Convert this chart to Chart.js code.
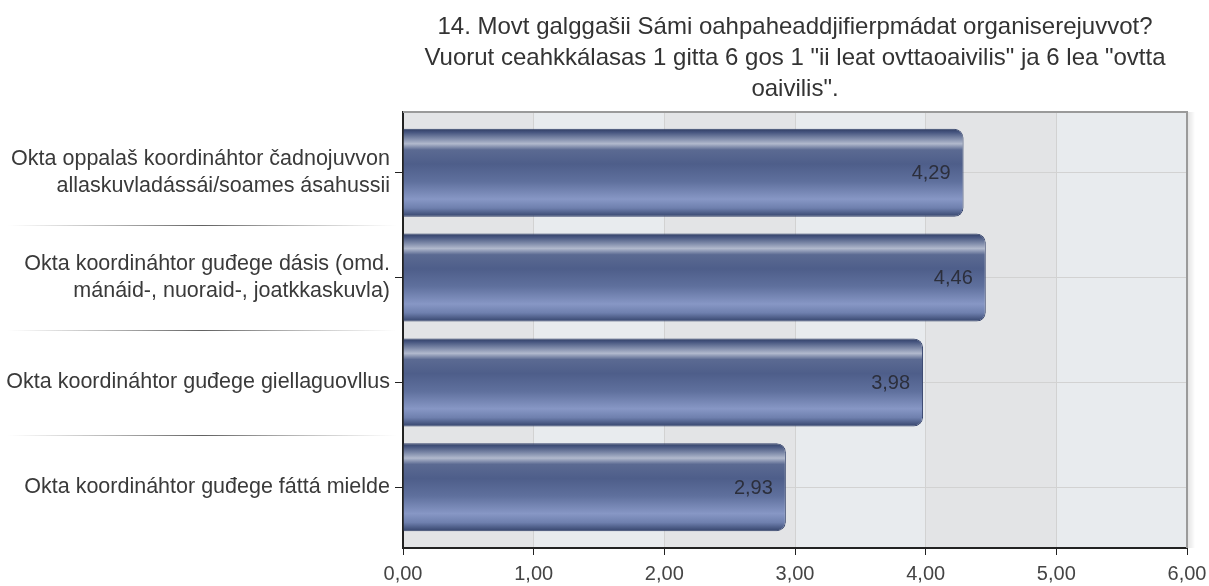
<!DOCTYPE html>
<html>
<head>
<meta charset="utf-8">
<script src="https://cdn.jsdelivr.net/npm/chart.js"></script>
<style>
  html, body { margin: 0; padding: 0; background: #fff; }
  #wrap { width: 1209px; height: 586px; position: relative; }
</style>
</head>
<body>
<div id="wrap"><canvas id="barChart"></canvas></div>
<script>
var titleLines = [
  "14. Movt galggašii Sámi oahpaheaddjifierpmádat organiserejuvvot?",
  "Vuorut ceahkkálasas 1 gitta 6 gos 1 \"ii leat ovttaoaivilis\" ja 6 lea \"ovtta",
  "oaivilis\"."
];
var barLabels = [
  ["Okta oppalaš koordináhtor čadnojuvvon", "allaskuvladássái/soames ásahussii"],
  ["Okta koordináhtor guđege dásis (omd.", "mánáid-, nuoraid-, joatkkaskuvla)"],
  "Okta koordináhtor guđege giellaguovllus",
  "Okta koordináhtor guđege fáttá mielde"
];
var barValues = [4.29, 4.46, 3.98, 2.93];
var xMin = 0;
var xMax = 6;

const FONT = "'Liberation Sans', Arial, sans-serif";
const BAR_SHARE = 0.84;
const Y_PAD = 0.58; // extra room above first and below last category

const fmt = (v) => v.toFixed(2).replace(".", ",");

// vertical gradient for each bar, built from the y scale
const barFill = (ctx) => {
  const chart = ctx.chart;
  if (!chart.chartArea || !chart.scales.y) return "#56679a";
  const yScale = chart.scales.y;
  const mid = yScale.getPixelForValue(ctx.dataIndex);
  const half = Math.abs(yScale.getPixelForValue(1) - yScale.getPixelForValue(0)) * BAR_SHARE / 2;
  const g = chart.ctx.createLinearGradient(0, mid - half, 0, mid + half);
  g.addColorStop(0, "#2f3d63");
  g.addColorStop(0.04, "#46557f");
  g.addColorStop(0.11, "#7e8aa9");
  g.addColorStop(0.17, "#b1b9cd");
  g.addColorStop(0.24, "#5b6a92");
  g.addColorStop(0.4, "#4e5e8a");
  g.addColorStop(0.6, "#5f709d");
  g.addColorStop(0.8, "#8797c5");
  g.addColorStop(0.9, "#6f80ae");
  g.addColorStop(1, "#34436b");
  return g;
};

// BACKGROUND, BORDERS, LABEL SEPARATORS, TITLE, VALUES
const decor = {
  id: "decor",
  beforeDraw(chart) {
    const { ctx, chartArea: a, scales } = chart;
    ctx.save();
    for (let i = xMin; i < xMax; i++) {
      const x0 = scales.x.getPixelForValue(i);
      const x1 = scales.x.getPixelForValue(i + 1);
      ctx.fillStyle = i % 2 === 0 ? "#e3e4e6" : "#e8ebee";
      ctx.fillRect(x0, a.top, x1 - x0, a.bottom - a.top);
    }
    // right shadow
    const sh = ctx.createLinearGradient(a.right, 0, a.right + 8, 0);
    sh.addColorStop(0, "rgba(0,0,0,0.12)");
    sh.addColorStop(1, "rgba(0,0,0,0)");
    ctx.fillStyle = sh;
    ctx.fillRect(a.right, a.top, 8, a.bottom - a.top);
    // separators between category labels
    for (let i = 1; i < barLabels.length; i++) {
      const y = Math.round(scales.y.getPixelForValue(i - 0.5)) + 0.5;
      const g = ctx.createLinearGradient(8, 0, 396, 0);
      g.addColorStop(0, "rgba(120,120,120,0)");
      g.addColorStop(0.5, "rgba(80,80,80,0.9)");
      g.addColorStop(1, "rgba(120,120,120,0)");
      ctx.strokeStyle = g;
      ctx.lineWidth = 1;
      ctx.beginPath();
      ctx.moveTo(8, y);
      ctx.lineTo(396, y);
      ctx.stroke();
    }
    // title, centred over the plot
    ctx.fillStyle = "#333";
    ctx.font = "24px " + FONT;
    ctx.textAlign = "center";
    ctx.textBaseline = "middle";
    const cx = (a.left + a.right) / 2;
    titleLines.forEach((t, i) => ctx.fillText(t, cx, 27 + i * 31));
    ctx.restore();
  },
  afterDatasetsDraw(chart) {
    const { ctx, chartArea: a } = chart;
    ctx.save();
    ctx.strokeStyle = "#9a9a9a";
    ctx.lineWidth = 2;
    ctx.beginPath();
    ctx.moveTo(a.left, a.top);
    ctx.lineTo(a.right, a.top);
    ctx.lineTo(a.right, a.bottom);
    ctx.stroke();
    ctx.font = "20px " + FONT;
    ctx.fillStyle = "#2c2f3c";
    ctx.textAlign = "right";
    ctx.textBaseline = "middle";
    chart.getDatasetMeta(0).data.forEach((bar, i) => {
      ctx.fillText(fmt(barValues[i]), bar.x - 13, bar.y + 1);
    });
    ctx.restore();
  },
};

new Chart("barChart", {
  type: "bar",
  data: {
    datasets: [
      {
        data: barValues.map((v, i) => ({ x: v, y: i })),
        backgroundColor: barFill,
        borderColor: "#33416a",
        borderWidth: 1,
        borderSkipped: "start",
        borderRadius: 9,
        categoryPercentage: BAR_SHARE,
        barPercentage: 1,
      },
    ],
  },
  options: {
    indexAxis: "y",
    responsive: true,
    maintainAspectRatio: false,
    animation: false,
    layout: { padding: { top: 112, right: 22, left: 0, bottom: 0 } },
    plugins: { legend: { display: false }, title: { display: false }, tooltip: { enabled: false } },
    scales: {
      x: {
        type: "linear",
        min: xMin,
        max: xMax,
        ticks: {
          stepSize: 1,
          color: "#444",
          padding: 7,
          font: { family: FONT, size: 20 },
          callback: (v) => fmt(v),
        },
        grid: { color: "#d2d2d2", tickColor: "#222", tickLength: 7 },
        border: { color: "#222", width: 2 },
        afterFit: (s) => { s.height = 38; s.paddingRight = 0; s.paddingLeft = 0; },
      },
      y: {
        type: "linear",
        reverse: true,
        offset: false,
        min: -Y_PAD,
        max: barLabels.length - 1 + Y_PAD,
        afterBuildTicks: (s) => { s.ticks = barLabels.map((_, i) => ({ value: i })); },
        grid: { offset: false, color: "#d2d2d2", tickColor: "#222", tickLength: 8 },
        border: { color: "#222", width: 2 },
        ticks: {
          color: "#3a3a3a",
          padding: 5,
          autoSkip: false,
          font: { family: FONT, size: 21.5, lineHeight: 1.26 },
          callback: (v) => barLabels[v],
        },
        afterFit: (s) => { s.width = 403; s.paddingTop = 0; s.paddingBottom = 0; },
      },
    },
  },
  plugins: [decor],
});
</script>
</body>
</html>
